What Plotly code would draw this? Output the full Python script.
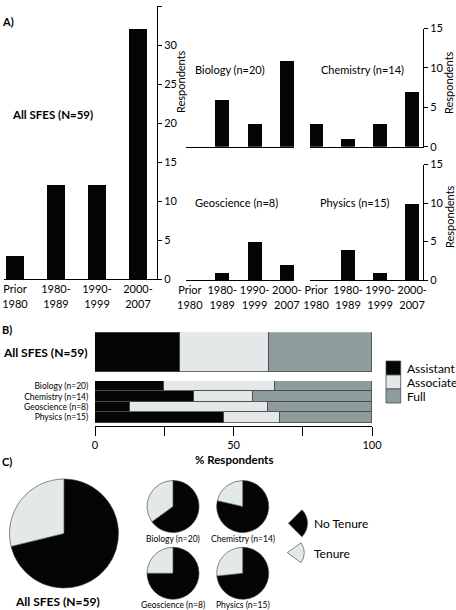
import plotly.graph_objects as go

# ---------------- data ----------------
periods = ["Prior<br>1980", "1980-<br>1989", "1990-<br>1999", "2000-<br>2007"]
all_counts = [3, 12, 12, 32]
biology_counts = [0, 6, 3, 11]
chemistry_counts = [3, 1, 3, 7]
geoscience_counts = [0, 1, 5, 2]
physics_counts = [0, 4, 1, 10]

ranks = ["Assistant", "Associate", "Full"]
rank_groups = ["Biology (n=20)", "Chemistry (n=14)", "Geoscience (n=8)", "Physics (n=15)"]
all_label = "All SFES (N=59)"
all_rank_counts = [18, 19, 22]
assistant_counts = [5, 5, 1, 7]
associate_counts = [8, 3, 4, 3]
full_counts = [7, 6, 3, 5]
group_sizes = [20, 14, 8, 15]

tenure_labels = ["No Tenure", "Tenure"]
all_tenure = [42, 17]
biology_tenure = [13, 7]
chemistry_tenure = [11, 3]
geoscience_tenure = [6, 2]
physics_tenure = [11, 4]

# ---------------- style ----------------
W, H = 456, 610
FONT = "Lato"
BLACK = "#050505"
rank_colors = ["#050505", "#e3e8e8", "#8e9c9e"]
tenure_colors = ["#050505", "#e3e8e8"]
EDGE = "#4a4a4a"


def fx(x):
    return x / W


def fy(y):
    return 1 - y / H


fig = go.Figure()

# ---------------- Panel A ----------------
a_series = [
    (all_counts, "x", "y", 0.44),
    (biology_counts, "x2", "y2", 0.43),
    (chemistry_counts, "x3", "y3", 0.44),
    (geoscience_counts, "x4", "y4", 0.43),
    (physics_counts, "x5", "y5", 0.44),
]
for vals, xa, ya, wd in a_series:
    fig.add_trace(go.Bar(x=periods, y=vals, xaxis=xa, yaxis=ya, width=wd,
                         marker=dict(color=BLACK, line=dict(width=0)),
                         showlegend=False))

# ---------------- Panel B ----------------
pct_all = [100 * c / sum(all_rank_counts) for c in all_rank_counts]
rank_lists = [assistant_counts, associate_counts, full_counts]
for i, r in enumerate(ranks):
    fig.add_trace(go.Bar(y=[all_label], x=[pct_all[i]], orientation="h",
                         xaxis="x6", yaxis="y7", width=1, name=r,
                         marker=dict(color=rank_colors[i], line=dict(color=EDGE, width=0.8)),
                         showlegend=False))
    pcts = [100 * c / n for c, n in zip(rank_lists[i], group_sizes)]
    fig.add_trace(go.Bar(y=rank_groups, x=pcts, orientation="h",
                         xaxis="x6", yaxis="y6", width=1, name=r,
                         marker=dict(color=rank_colors[i], line=dict(color=EDGE, width=0.8)),
                         showlegend=False))

# ---------------- Panel C ----------------
pies = [
    (all_tenure, 64, 533.5, 109),
    (biology_tenure, 173, 506.5, 52),
    (chemistry_tenure, 242.7, 506.5, 52),
    (geoscience_tenure, 173, 573.3, 52),
    (physics_tenure, 242.7, 573.3, 52),
]
for vals, cx, cy, d in pies:
    fig.add_trace(go.Pie(labels=tenure_labels, values=vals, sort=False,
                         direction="clockwise", rotation=0,
                         domain=dict(x=[fx(cx - d / 2), fx(cx + d / 2)],
                                     y=[fy(cy + d / 2), fy(cy - d / 2)]),
                         marker=dict(colors=tenure_colors, line=dict(color="#3a3a3a", width=0.6)),
                         textinfo="none", hoverinfo="label+value+percent",
                         showlegend=False))

# wedge-shaped legend icons for panel C
wedges = [
    (tenure_colors[0], 288.5, 523.3, 19, [1, 3], 45),
    (tenure_colors[1], 287.3, 552.7, 17, [1, 4], 54),
]
for col, ax_, ay_, r, v, rot in wedges:
    fig.add_trace(go.Pie(values=v, sort=False, direction="clockwise", rotation=rot,
                         domain=dict(x=[fx(ax_ - r), fx(ax_ + r)], y=[fy(ay_ + r), fy(ay_ - r)]),
                         marker=dict(colors=[col, "rgba(0,0,0,0)"],
                                     line=dict(color=["#3a3a3a", "rgba(0,0,0,0)"], width=0.6)),
                         textinfo="none", hoverinfo="skip", showlegend=False))

# ---------------- axes ----------------
tickfont = dict(family=FONT, size=11, color="black")
common_x = dict(type="category", showline=True, linecolor="black", linewidth=1,
                ticks="", showgrid=False, zeroline=False, tickfont=tickfont, fixedrange=True,
                tickangle=0, automargin=False)
yright = dict(side="right", showline=True, linecolor="black", linewidth=1, ticks="outside",
              ticklen=4, tickcolor="black", dtick=5, showgrid=False, zeroline=False,
              tickfont=tickfont, fixedrange=True, automargin=False)
yhidden = dict(visible=False, fixedrange=True)

top_dom = [fy(146.7), fy(28.5)]
bot_dom = [fy(280), fy(164.5)]

fig.update_layout(
    xaxis=dict(common_x, domain=[fx(4), fx(157)], anchor="y", range=[-0.268, 3.463]),
    yaxis=dict(yright, domain=[fy(279), fy(6)], anchor="x", range=[0, 35]),
    xaxis2=dict(common_x, domain=[fx(186), fx(294)], anchor="y2", range=[-0.12, 3.22],
                showticklabels=False),
    yaxis2=dict(yhidden, domain=top_dom, anchor="x2", range=[0, 15]),
    xaxis3=dict(common_x, domain=[fx(310), fx(423)], anchor="y3", range=[-0.19, 3.34],
                showticklabels=False),
    yaxis3=dict(yright, domain=top_dom, anchor="x3", range=[0, 15]),
    xaxis4=dict(common_x, domain=[fx(186), fx(294)], anchor="y4", range=[-0.12, 3.22]),
    yaxis4=dict(yhidden, domain=bot_dom, anchor="x4", range=[0, 15]),
    xaxis5=dict(common_x, domain=[fx(310), fx(423)], anchor="y5", range=[-0.19, 3.34]),
    yaxis5=dict(yright, domain=bot_dom, anchor="x5", range=[0, 15]),
    xaxis6=dict(domain=[fx(95), fx(372)], anchor="y6", range=[0, 100], showline=True,
                linecolor="black", linewidth=1, ticks="outside", ticklen=9, tickcolor="black",
                tickvals=[0, 25, 50, 75, 100], ticktext=["0", "", "50", "", "100"],
                showgrid=False, zeroline=False, tickfont=tickfont, fixedrange=True,
                automargin=False),
    yaxis6=dict(domain=[fy(426), fy(381)], anchor="x6", type="category",
                categoryorder="array", categoryarray=rank_groups[::-1], range=[-0.82, 3.5],
                tickmode="array", tickvals=rank_groups, ticktext=rank_groups,
                showline=False, ticks="outside", ticklen=4, tickcolor="rgba(0,0,0,0)",
                showgrid=False, zeroline=False, automargin=False,
                tickfont=dict(family=FONT, size=8.5, color="black"), fixedrange=True),
    yaxis7=dict(domain=[fy(372.7), fy(332.3)], anchor="x6", type="category",
                range=[-0.5, 0.5], showline=False, ticks="outside", ticklen=4,
                tickcolor="rgba(0,0,0,0)", showgrid=False, zeroline=False, automargin=False,
                tickfont=dict(family=FONT, size=12, color="black", weight="bold"),
                fixedrange=True),
)

# ---------------- annotations ----------------
ann = []


def text(x, y, s, size=11, bold=False, xanchor="left", angle=0):
    ann.append(dict(x=fx(x), y=fy(y), xref="paper", yref="paper", text=s, showarrow=False,
                    xanchor=xanchor, yanchor="middle", textangle=angle,
                    font=dict(family=FONT, size=size, color="black",
                              weight="bold" if bold else "normal")))


text(0, 21, "A)", 11, True)
text(0, 329, "B)", 11, True)
text(0, 461, "C)", 11, True)
text(10, 115, all_label, 11.5, True)
text(193, 69, "Biology (n=20)", 11)
text(319, 69, "Chemistry (n=14)", 11)
text(193, 202, "Geoscience (n=8)", 11)
text(318, 202, "Physics (n=15)", 11)
text(180, 82, "Respondents", 11, xanchor="center", angle=-90)
text(449, 83, "Respondents", 11, xanchor="center", angle=-90)
text(449, 217, "Respondents", 11, xanchor="center", angle=-90)
text(233.5, 460, "% Respondents", 11.5, True, xanchor="center")

# panel B legend
shapes = []
for i, r in enumerate(ranks):
    y0 = 361 + 14 * i
    shapes.append(dict(type="rect", xref="paper", yref="paper",
                       x0=fx(386), x1=fx(400.7), y0=fy(y0 + 14), y1=fy(y0),
                       fillcolor=rank_colors[i], line=dict(color=EDGE, width=0.8)))
    text(405, y0 + 7.5, r, 12)

# panel C labels
text(57, 601, all_label, 12, True, xanchor="center")
text(173, 538.5, "Biology (n=20)", 8.5, xanchor="center")
text(242.7, 538.5, "Chemistry (n=14)", 8.5, xanchor="center")
text(173, 604.5, "Geoscience (n=8)", 8.5, xanchor="center")
text(242.7, 604.5, "Physics (n=15)", 8.5, xanchor="center")
text(311.5, 523.5, tenure_labels[0], 12)
text(311.5, 553, tenure_labels[1], 12)

fig.update_layout(
    width=W, height=H, margin=dict(l=0, r=0, t=0, b=0, autoexpand=False),
    paper_bgcolor="white", plot_bgcolor="white",
    barmode="stack", bargap=0,
    font=dict(family=FONT, size=11, color="black"),
    annotations=ann, shapes=shapes, showlegend=False,
)

fig.write_html("out.html", config={"displayModeBar": False},
               post_script="document.body.style.margin='0px';document.body.style.overflow='hidden';")
